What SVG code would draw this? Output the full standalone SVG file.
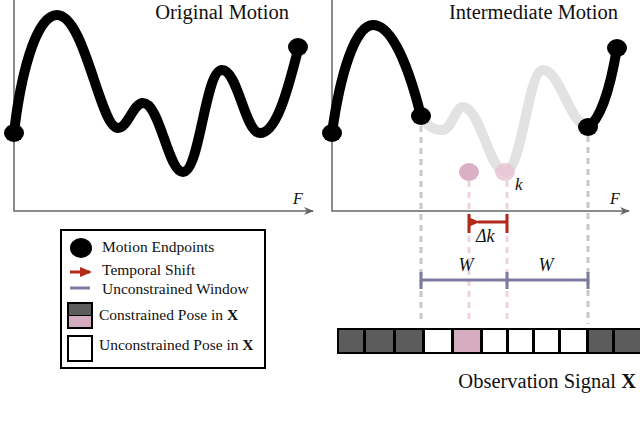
<svg xmlns="http://www.w3.org/2000/svg" width="640" height="425" viewBox="0 0 640 425">
<defs>
<style>
.ax{stroke:#666;stroke-width:1.5;fill:none}
.curve{fill:none;stroke:#000;stroke-width:10;stroke-linecap:round}
.ghost{fill:none;stroke:#e2e2e2;stroke-width:10;stroke-linecap:round}
.dot{fill:#000}
.t{font-family:"Liberation Serif","Times New Roman",serif;fill:#111}
.it{font-style:italic}
.gd{stroke:#c8c8cc;stroke-width:3;stroke-dasharray:6,5;fill:none}
.pd{stroke:#efd3dc;stroke-width:3;stroke-dasharray:6,5;fill:none}
.red{stroke:#b22a1a;stroke-width:3;fill:none}
.win{stroke:#7b7b9e;stroke-width:3;fill:none}
.dk{fill:#5c5c5c}
.pk{fill:#d5abc0}
.wh{fill:#fff}
</style>
<marker id="axh" markerWidth="10" markerHeight="8" refX="9" refY="4" orient="auto" markerUnits="userSpaceOnUse"><path d="M0,0 L10,4 L0,8 L3,4 Z" fill="#666"/></marker>
<marker id="rh" markerWidth="12" markerHeight="10" refX="2" refY="5" orient="auto" markerUnits="userSpaceOnUse"><path d="M12,0 L0,5 L12,10 Z" fill="#b22a1a"/></marker>
<marker id="rh2" markerWidth="12" markerHeight="10" refX="10" refY="5" orient="auto" markerUnits="userSpaceOnUse"><path d="M0,0 L12,5 L0,10 Z" fill="#b22a1a"/></marker>
</defs>
<rect width="640" height="425" fill="#fff"/>

<g id="left-plot">
<path class="ax" d="M14,0 V211 H313" marker-end="url(#axh)"/>
<text class="t it" x="293" y="204" font-size="16" fill="#555">F</text>
<text class="t" x="289" y="19" font-size="20.5" text-anchor="end">Original Motion</text>
<path class="curve" d="M14,133 C20,80 35,15 57,15 C85,15 100,128 118,128 C128,128 133,103 143,103 C160,103 168,172 183,172 C200,172 205,70 222,70 C238,70 245,133 260,133 C278,133 290,80 298,50"/>
<ellipse class="dot" cx="14" cy="133" rx="10" ry="9"/>
<ellipse class="dot" cx="298" cy="47" rx="10" ry="9"/>
</g>

<g id="right-plot">
<path class="ax" d="M332,0 V211 H629" marker-end="url(#axh)"/>
<text class="t it" x="610" y="204" font-size="16" fill="#555">F</text>
<text class="t" x="618" y="19" font-size="20.5" text-anchor="end">Intermediate Motion</text>
<path class="ghost" d="M421,116 C428,128 435,130 442,130 C452,130 455,107 463,107 C480,107 490,172 505,172 C522,172 528,70 543,70 C560,70 570,125 588,127"/>
<path class="curve" d="M332,133 C340,75 355,25 373,25 C395,25 412,80 421,116"/>
<path class="curve" d="M588,127 C600,120 610,90 617,48"/>
<ellipse class="dot" cx="332" cy="133" rx="10" ry="9"/>
<ellipse class="dot" cx="421" cy="116" rx="10" ry="9"/>
<ellipse class="dot" cx="588" cy="127" rx="10" ry="9"/>
<ellipse class="dot" cx="617" cy="48" rx="10" ry="9"/>
</g>

<g id="connectors">
<path class="gd" d="M421,126 V324"/>
<path class="gd" d="M588,136 V324"/>
<path class="pd" d="M469,181 V324"/>
<path class="pd" d="M507,181 V324"/>
</g>

<g id="pose-k">
<ellipse cx="469" cy="172" rx="10" ry="9" fill="#d9b0c4"/>
<ellipse cx="505" cy="172" rx="10" ry="9" fill="#e9c3d3" fill-opacity="0.8"/>
<text class="t it" x="515" y="190" font-size="17">k</text>
</g>

<g id="temporal-shift">
<path class="red" d="M469,214 V233 M507,214 V233"/>
<path class="red" d="M507,222 H478" marker-end="url(#rh)"/>
<text class="t it" x="476" y="242" font-size="18">Δk</text>
</g>

<g id="window">
<path class="win" d="M421,280 H588 M421,272 V289 M507,272 V289 M588,272 V289"/>
<text class="t it" x="466" y="271" font-size="18" text-anchor="middle">W</text>
<text class="t it" x="546" y="271" font-size="18" text-anchor="middle">W</text>
</g>

<g id="signal">
<rect x="337" y="328" width="303" height="26" fill="#000"/>
<rect class="dk" x="339" y="330" width="24" height="22"/>
<rect class="dk" x="366" y="330" width="27" height="22"/>
<rect class="dk" x="396" y="330" width="26" height="22"/>
<rect class="wh" x="425" y="330" width="26" height="22"/>
<rect class="pk" x="454" y="330" width="26" height="22"/>
<rect class="wh" x="483" y="330" width="23" height="22"/>
<rect class="wh" x="509" y="330" width="23" height="22"/>
<rect class="wh" x="535" y="330" width="23" height="22"/>
<rect class="wh" x="561" y="330" width="25" height="22"/>
<rect class="dk" x="589" y="330" width="23" height="22"/>
<rect class="dk" x="615" y="330" width="25" height="22"/>
<text class="t" x="636" y="388" font-size="20.5" text-anchor="end">Observation Signal <tspan font-weight="bold">X</tspan></text>
</g>

<g id="legend">
<rect x="61" y="230" width="204" height="138" fill="#fff" stroke="#000" stroke-width="2"/>
<ellipse class="dot" cx="81" cy="248" rx="11" ry="10"/>
<text class="t" x="102" y="252" font-size="15.5">Motion Endpoints</text>
<path class="red" d="M70,272 H90" marker-end="url(#rh2)"/>
<text class="t" x="102" y="275" font-size="15.5">Temporal Shift</text>
<path class="win" d="M70,288 H90"/>
<text class="t" x="102" y="294" font-size="15.5">Unconstrained Window</text>
<rect x="67" y="302" width="26" height="27" fill="#000"/>
<rect class="dk" x="69" y="304" width="22" height="11"/>
<rect class="pk" x="69" y="316" width="22" height="11"/>
<text class="t" x="99" y="320" font-size="15.5">Constrained Pose in <tspan font-weight="bold">X</tspan></text>
<rect x="68" y="336" width="24" height="25" fill="#fff" stroke="#000" stroke-width="2"/>
<text class="t" x="99" y="350" font-size="15.5">Unconstrained Pose in <tspan font-weight="bold">X</tspan></text>
</g>
</svg>
